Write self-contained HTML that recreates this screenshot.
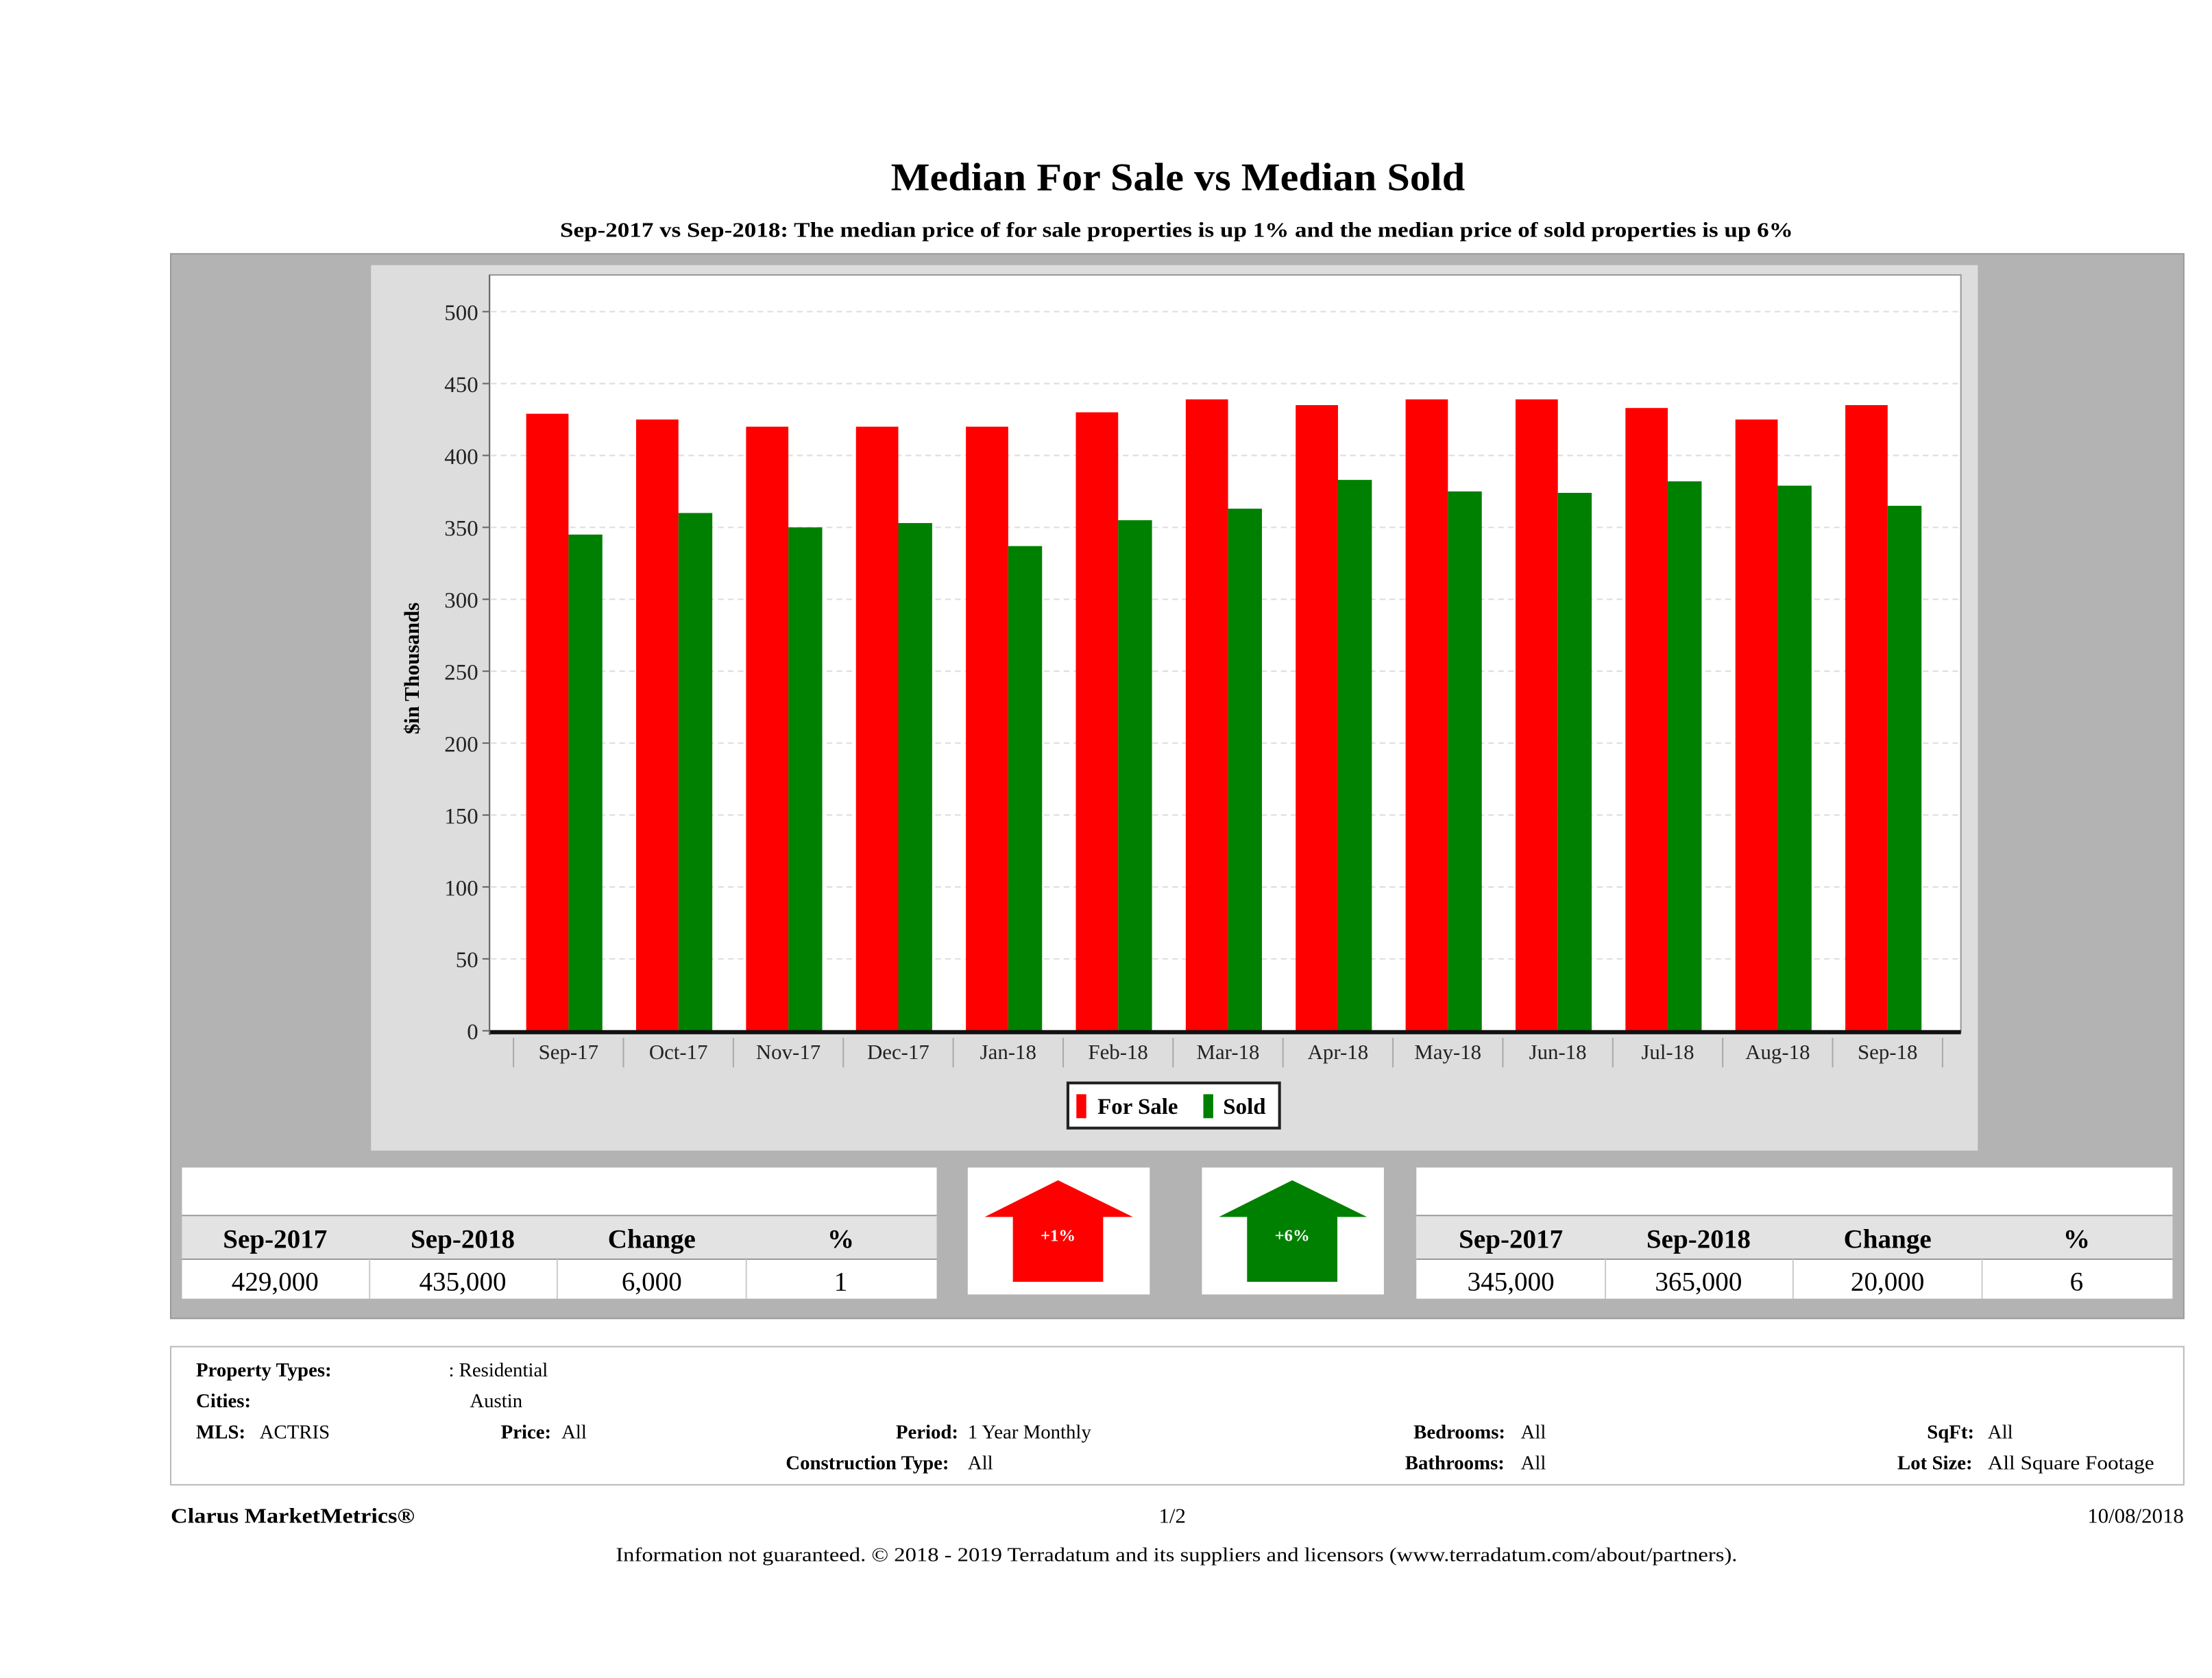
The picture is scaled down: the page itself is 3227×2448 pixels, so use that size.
<!DOCTYPE html>
<html><head><meta charset="utf-8"><style>
html,body{margin:0;padding:0;background:#fff;}
svg{display:block;font-family:"Liberation Serif",serif;}
</style></head><body>
<svg id="chart" width="3227" height="2448" viewBox="0 0 1568 1190" preserveAspectRatio="none" xmlns="http://www.w3.org/2000/svg">
<rect width="1568" height="1190" fill="#fff"/>
<text x="835" y="135" text-anchor="middle" font-size="28" font-weight="bold" textLength="407" lengthAdjust="spacingAndGlyphs">Median For Sale vs Median Sold</text>
<text x="834" y="168" text-anchor="middle" font-size="15" font-weight="bold" textLength="874" lengthAdjust="spacingAndGlyphs">Sep-2017 vs Sep-2018: The median price of for sale properties is up 1% and the median price of sold properties is up 6%</text>
<rect x="121" y="180" width="1427" height="755" fill="#b3b3b3" stroke="#999"/>
<rect x="263" y="188" width="1139" height="628" fill="#dddddd"/>
<rect x="347" y="195" width="1043" height="537" fill="#fff" stroke="#999"/>
<g id="grid"></g>
<g id="bars"></g>
<g id="axes"></g>
<text transform="translate(297,474) rotate(-90)" text-anchor="middle" font-size="15" font-weight="bold">$in Thousands</text>
<g>
<rect x="757" y="768" width="150" height="32" fill="#fff" stroke="#222" stroke-width="2"/>
<rect x="763" y="776" width="7" height="17" fill="#ff0000"/>
<text x="778" y="790" font-size="16" font-weight="bold">For Sale</text>
<rect x="853" y="776" width="7" height="17" fill="#008000"/>
<text x="867" y="790" font-size="16" font-weight="bold">Sold</text>
</g>
<g font-size="19">
<rect x="129" y="828" width="535" height="93" fill="#fff"/>
<rect x="129" y="862" width="535" height="31" fill="#e3e3e3"/>
<line x1="129" y1="862" x2="664" y2="862" stroke="#999"/>
<line x1="129" y1="893" x2="664" y2="893" stroke="#999"/>
<g font-weight="bold" text-anchor="middle"><text x="195" y="885">Sep-2017</text><text x="328" y="885">Sep-2018</text><text x="462" y="885">Change</text><text x="596" y="885">%</text></g>
<g text-anchor="middle"><text x="195" y="915">429,000</text><text x="328" y="915">435,000</text><text x="462" y="915">6,000</text><text x="596" y="915">1</text></g>
<g stroke="#ccc"><line x1="262" y1="893" x2="262" y2="921"/><line x1="395" y1="893" x2="395" y2="921"/><line x1="529" y1="893" x2="529" y2="921"/></g>
</g>
<g font-size="19">
<rect x="1004" y="828" width="536" height="93" fill="#fff"/>
<rect x="1004" y="862" width="536" height="31" fill="#e3e3e3"/>
<line x1="1004" y1="862" x2="1540" y2="862" stroke="#999"/>
<line x1="1004" y1="893" x2="1540" y2="893" stroke="#999"/>
<g font-weight="bold" text-anchor="middle"><text x="1071" y="885">Sep-2017</text><text x="1204" y="885">Sep-2018</text><text x="1338" y="885">Change</text><text x="1472" y="885">%</text></g>
<g text-anchor="middle"><text x="1071" y="915">345,000</text><text x="1204" y="915">365,000</text><text x="1338" y="915">20,000</text><text x="1472" y="915">6</text></g>
<g stroke="#ccc"><line x1="1138" y1="893" x2="1138" y2="921"/><line x1="1271" y1="893" x2="1271" y2="921"/><line x1="1405" y1="893" x2="1405" y2="921"/></g>
</g>
<g>
<rect x="686" y="828" width="129" height="90" fill="#fff"/>
<polygon points="698,863 750,837 803,863 782,863 782,909 718,909 718,863" fill="#ff0000"/>
<text x="750" y="880" text-anchor="middle" font-size="12" font-weight="bold" fill="#fff">+1%</text>
</g>
<g>
<rect x="852" y="828" width="129" height="90" fill="#fff"/>
<polygon points="864,863 916,837 969,863 948,863 948,909 884,909 884,863" fill="#008000"/>
<text x="916" y="880" text-anchor="middle" font-size="12" font-weight="bold" fill="#fff">+6%</text>
</g>
<g font-size="14">
<rect x="121" y="955" width="1427" height="98" fill="#fff" stroke="#bbb"/>
<text x="139" y="976" font-weight="bold">Property Types:</text><text x="318" y="976">: Residential</text>
<text x="139" y="998" font-weight="bold">Cities:</text><text x="333" y="998">Austin</text>
<text x="139" y="1020" font-weight="bold">MLS:</text><text x="184" y="1020">ACTRIS</text>
<text x="355" y="1020" font-weight="bold">Price:</text><text x="398" y="1020">All</text>
<text x="635" y="1020" font-weight="bold">Period:</text><text x="686" y="1020">1 Year Monthly</text>
<text x="1002" y="1020" font-weight="bold">Bedrooms:</text><text x="1078" y="1020">All</text>
<text x="1366" y="1020" font-weight="bold">SqFt:</text><text x="1409" y="1020">All</text>
<text x="557" y="1042" font-weight="bold">Construction Type:</text><text x="686" y="1042">All</text>
<text x="996" y="1042" font-weight="bold">Bathrooms:</text><text x="1078" y="1042">All</text>
<text x="1345" y="1042" font-weight="bold">Lot Size:</text><text x="1409" y="1042" textLength="118" lengthAdjust="spacingAndGlyphs">All Square Footage</text>
</g>
<text x="121" y="1080" font-size="15" font-weight="bold" textLength="173" lengthAdjust="spacingAndGlyphs">Clarus MarketMetrics®</text>
<text x="831" y="1080" text-anchor="middle" font-size="15">1/2</text>
<text x="1548" y="1080" text-anchor="end" font-size="15">10/08/2018</text>
<text x="834" y="1107" text-anchor="middle" font-size="14" textLength="795" lengthAdjust="spacingAndGlyphs">Information not guaranteed. © 2018 - 2019 Terradatum and its suppliers and licensors (www.terradatum.com/about/partners).</text>
</svg>
<script>
const categories = ["Sep-17","Oct-17","Nov-17","Dec-17","Jan-18","Feb-18","Mar-18","Apr-18","May-18","Jun-18","Jul-18","Aug-18","Sep-18"];
const forSaleValues = [429,425,420,420,420,430,439,435,439,439,433,425,435];
const soldValues = [345,360,350,353,337,355,363,383,375,374,382,379,365];
const yTicks = [0,50,100,150,200,250,300,350,400,450,500];

const NS = "http://www.w3.org/2000/svg";
const y0 = 731, yPer = 1.02;
function yScale(v){ return y0 - v*yPer; }
const bandStart = 364, bandW = (1377-364)/categories.length;
function xBand(i){ return bandStart + i*bandW; }
function mk(tag, attrs, parent){ const e=document.createElementNS(NS,tag); for(const k in attrs) e.setAttribute(k,attrs[k]); parent.appendChild(e); return e; }
const grid=document.getElementById('grid'), bars=document.getElementById('bars'), axes=document.getElementById('axes');

yTicks.forEach(t=>{
  const y=yScale(t);
  if(t>0){ const g=mk('line',{x1:348,x2:1389,y1:y,y2:y,stroke:'#ddd','stroke-dasharray':'4,3'},grid);
    
     }
  const tk=mk('line',{x1:342,x2:347,y1:y,y2:y,stroke:'#666'},axes);
  
  
  const lb=mk('text',{x:339,y:y+6,'text-anchor':'end','font-size':'16',fill:'#222'},axes);
  lb.textContent=t;
  
  
});

categories.forEach((c,i)=>{
  const bx=xBand(i);
  const r=mk('rect',{x:bx+9,y:yScale(forSaleValues[i]),width:30,height:forSaleValues[i]*yPer,fill:'#ff0000'},bars);
  
  
  const g=mk('rect',{x:bx+39,y:yScale(soldValues[i]),width:24,height:soldValues[i]*yPer,fill:'#008000'},bars);
  
  
  const sep=mk('line',{x1:bx,x2:bx,y1:736,y2:757,stroke:'#aaa'},axes);
  
  
  const lb=mk('text',{x:bx+bandW/2,y:751,'text-anchor':'middle','font-size':'15',fill:'#222'},axes);
  lb.textContent=c;
  
  
});
const endSep=mk('line',{x1:xBand(categories.length),x2:xBand(categories.length),y1:736,y2:757,stroke:'#aaa'},axes);


const xa=mk('line',{x1:347,x2:1390,y1:732,y2:732,stroke:'#111','stroke-width':'3'},axes);


const ya=mk('line',{x1:347,x2:347,y1:195,y2:734,stroke:'#666'},axes);


</script>
</body></html>
